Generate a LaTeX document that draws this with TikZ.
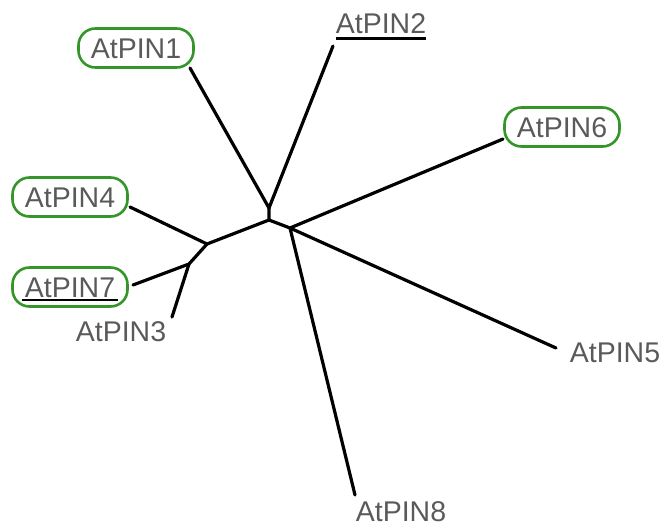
\documentclass[tikz,border=0pt]{standalone}
\usepackage{fontspec}
\setmainfont{Liberation Sans}
\definecolor{boxgreen}{RGB}{52,150,40}
\definecolor{labgray}{RGB}{90,90,90}
\begin{document}
\begin{tikzpicture}[x=1pt,y=-1pt,
  lab/.style={font=\fontsize{28.5}{30}\selectfont, text=labgray, inner sep=0pt, text height=20.5pt, text depth=0pt},
  pill/.style={lab, draw=boxgreen, line width=2.6pt, rounded corners=17pt, minimum width=115pt, minimum height=39pt},
  branch/.style={line width=3.2pt, line cap=round, line join=round},
  uline/.style={line width=2.2pt}]
\useasboundingbox (0,0) rectangle (666,528);
% labels
\node[pill] (p1) at (136,48) {AtPIN1};
\node[lab]  (p2) at (381,23) {AtPIN2};
\node[pill] (p6) at (562,127) {AtPIN6};
\node[pill] (p4) at (70,197) {AtPIN4};
\node[pill] (p7) at (70,287) {AtPIN7};
\node[lab]  (p3) at (121,331) {AtPIN3};
\node[lab]  (p5) at (615,352) {AtPIN5};
\node[lab]  (p8) at (401,511) {AtPIN8};
% underlines
\draw[uline] (p2.south west) ++(0,5) coordinate (u2a) -- (u2a -| p2.south east);
\coordinate (u7a) at (22,300);
\coordinate (u7b) at (118,300);
\draw[uline] (u7a) -- (u7b);
% branch end points and junctions
\coordinate (e1) at (190,68);
\coordinate (e2) at (333,46);
\coordinate (e6) at (503,139);
\coordinate (e5) at (556,348);
\coordinate (e8) at (355,495);
\coordinate (e4) at (130,207);
\coordinate (e7) at (133,285);
\coordinate (e3) at (172,317);
\coordinate (a1) at (269,208);
\coordinate (a) at (269,220);
\coordinate (c) at (290,228);
\coordinate (b) at (207,244);
\coordinate (d) at (189,264);
% tree
\draw[branch] (e1) -- (a1) -- (e2);
\draw[branch] (a1) -- (a) -- (c);
\draw[branch] (e6) -- (c) -- (e5);
\draw[branch] (c) -- (e8);
\draw[branch] (a) -- (b) -- (e4);
\draw[branch] (b) -- (d) -- (e7);
\draw[branch] (d) -- (e3);
\end{tikzpicture}
\end{document}
